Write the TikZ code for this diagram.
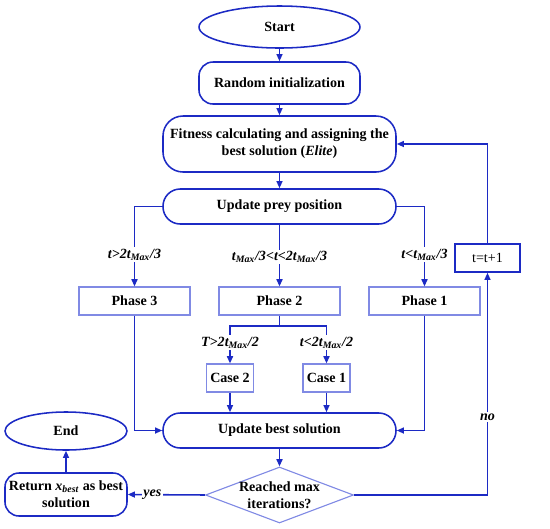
\documentclass[tikz,border=0pt]{standalone}
\usepackage{fontspec}
\setmainfont{Liberation Serif}
\usetikzlibrary{arrows.meta,positioning,shapes.geometric}
\definecolor{flowblue}{RGB}{28,42,196}
\definecolor{lightblue}{RGB}{128,138,228}

\begin{document}
\begin{tikzpicture}[
    x=0.25mm,y=-0.25mm,
    term/.style={draw=flowblue,line width=1.1pt,ellipse,inner sep=0pt,font=\bfseries},
    rbox/.style={draw=flowblue,line width=1.1pt,rounded corners=3.5mm,inner sep=0pt,align=center,font=\bfseries},
    pill/.style={draw=flowblue,line width=1.1pt,rounded corners=4.3mm,minimum width=58.25mm,minimum height=8.75mm,inner sep=0pt,font=\bfseries},
    phasebox/.style={draw=lightblue,line width=0.8pt,minimum height=7mm,inner sep=0pt,font=\bfseries},
    decision/.style={draw=lightblue,line width=0.8pt,diamond,minimum width=37mm,minimum height=14mm,inner sep=0pt},
    cond/.style={fill=white,text=black,inner sep=1pt,font=\bfseries\itshape},
    line/.style={flowblue,line width=1.1pt},
    >={Triangle[length=1.8mm,width=1.5mm]},
    font=\fontsize{10}{11.5}\selectfont
]
\useasboundingbox (0,0) rectangle (550,528);

\node[term,minimum width=40.25mm,minimum height=10.5mm] (start) at (279.5,27) {Start};
\node[rbox,minimum width=40.25mm,minimum height=10.5mm] (init) at (279.5,83) {Random initialization};
\node[rbox,rounded corners=5mm,minimum width=58.25mm,minimum height=14mm] (fit) at (279.5,144) {Fitness calculating and assigning the\\best solution (\textit{Elite})};
\node[pill] (prey) at (279.5,206.5) {Update prey position};
\node[phasebox,minimum width=27.75mm] (phase3) at (134.5,301) {Phase 3};
\node[phasebox,minimum width=30.25mm] (phase2) at (279.5,301) {Phase 2};
\node[phasebox,minimum width=27.75mm] (phase1) at (424.5,301) {Phase 1};
\node[draw=flowblue,line width=1.1pt,minimum width=16.25mm,minimum height=7mm,inner sep=0pt] (inc) at (487.5,258) {t=t+1};
\coordinate (split) at (279.5,326);
\node[phasebox,minimum width=11.75mm] (case2) at (230,378) {Case 2};
\node[phasebox,minimum width=11.75mm] (case1) at (326.5,378) {Case 1};
\node[pill] (best) at (279.5,430.5) {Update best solution};
\node[decision] (check) at (279.5,495) {};
\node[align=center,font=\bfseries,inner sep=0pt] (checktext) at (check) {Reached max\\iterations?};
\node[rbox,minimum width=30.5mm,minimum height=10.75mm] (ret) at (66,494.5) {Return \textit{x}\textsubscript{\textit{best}} as best\\solution};
\node[term,minimum width=30.5mm,minimum height=9.5mm] (end) at (66,431) {End};

\draw[->,line] (start) -- (init);
\draw[->,line] (init) -- (fit);
\draw[->,line] (fit) -- (prey);
\draw[->,line] (prey.west) -| node[cond,pos=0.8] {t>2t\textsubscript{Max}/3} (phase3.north);
\draw[->,line] (prey) -- node[cond,pos=0.52] {t\textsubscript{Max}/3<t<2t\textsubscript{Max}/3} (phase2);
\draw[->,line] (prey.east) -| node[cond,pos=0.8] {t<t\textsubscript{Max}/3} (phase1.north);
\draw[line] (phase2) -- (split);
\draw[->,line] (split) -| node[cond,pos=0.72] {T>2t\textsubscript{Max}/2} (case2.north);
\draw[->,line] (split) -| node[cond,pos=0.72] {t<2t\textsubscript{Max}/2} (case1.north);
\draw[->,line] (case2) -- (case2 |- best.north);
\draw[->,line] (case1) -- (case1 |- best.north);
\draw[->,line] (phase3) |- (best.west);
\draw[->,line] (phase1) |- (best.east);
\draw[->,line] (best) -- (check);
\draw[->,line] (check.west) -- node[cond,pos=0.68] {yes} (ret.east);
\draw[->,line] (ret) -- (end);
\draw[->,line] (check.east) -| node[cond,pos=0.675] {no} (inc.south);
\draw[->,line] (inc.north) |- (fit.east);
\end{tikzpicture}
\end{document}
